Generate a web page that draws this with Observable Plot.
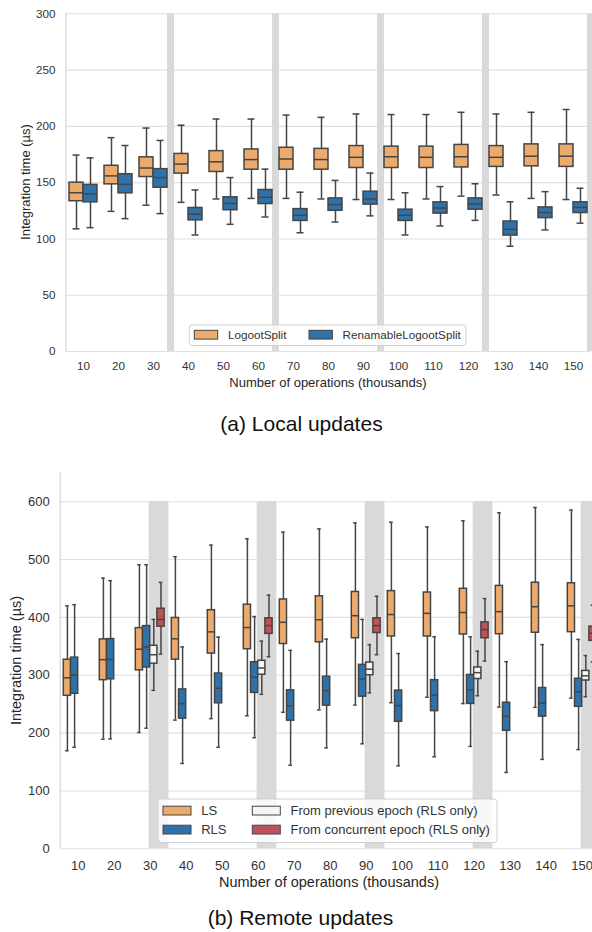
<!DOCTYPE html>
<html>
<head>
<meta charset="utf-8">
<script src="https://cdn.jsdelivr.net/npm/d3@7"></script>
<script src="https://cdn.jsdelivr.net/npm/@observablehq/plot@0.6"></script>
<style>
html, body { margin: 0; padding: 0; background: #fff; width: 592px; height: 932px; overflow: hidden; }
#root { position: relative; width: 592px; height: 932px; font-family: "Liberation Sans", Arial, Helvetica, sans-serif; }
#root svg { max-width: none !important; }
.layer { position: absolute; left: 0; }
</style>
</head>
<body>
<div id="root">
  <div id="top" class="layer" style="top:0px"></div>
  <div id="bottom" class="layer" style="top:440px"></div>
  <svg id="overlay" class="layer" style="top:0px" width="592" height="932"></svg>
</div>
<script>
// ---------- data ----------
const cats = [10, 20, 30, 40, 50, 60, 70, 80, 90, 100, 110, 120, 130, 140, 150];
const epochCats = [30, 60, 90, 120, 150];
const localEpochEdges = [35, 65, 95, 125, 155];
const yTicksLocal = [0, 50, 100, 150, 200, 250, 300];
const yTicksRemote = [0, 100, 200, 300, 400, 500, 600];

// each row: [lower whisker, Q1, median, Q3, upper whisker]
const localLS = [
  [109, 133.5, 141, 150, 174.5],
  [124.5, 148.5, 156, 165, 190],
  [130, 155, 163, 172.5, 198.5],
  [132.5, 158, 166.5, 175.5, 201],
  [135.5, 159.5, 168.5, 178, 206.5],
  [136, 161.5, 170.5, 179.5, 206.5],
  [136, 161.5, 171, 181, 210],
  [135.5, 161.5, 170.5, 180, 208],
  [135, 163, 172.5, 182.5, 211],
  [135, 163, 173, 182, 210.5],
  [135.5, 163, 172.5, 182, 210.5],
  [138, 163.5, 173, 183.5, 212.5],
  [139, 164, 172.5, 182.5, 211],
  [136, 164.5, 173.5, 184, 212.5],
  [135, 164, 173.5, 184, 215]
];
const localRLS = [
  [110, 132.5, 140, 148, 172],
  [118, 140.5, 148.5, 157.5, 183],
  [122.5, 145.5, 154.5, 162, 187.5],
  [103.5, 116.5, 122, 127.5, 143.5],
  [113, 125.5, 131.5, 137, 154.5],
  [119.5, 131, 137, 143.5, 162],
  [105.5, 116, 121, 126.5, 141.5],
  [115, 125, 130.5, 136, 152],
  [120.5, 130.5, 135.5, 142, 158.5],
  [103.5, 116, 121, 126, 141],
  [111.5, 122.5, 127.5, 132.5, 146.5],
  [116.5, 126, 131, 136, 149],
  [93.5, 103, 108.5, 115.5, 133],
  [108, 118.5, 123.5, 128, 142],
  [114, 123, 128, 132.5, 145]
];
const remoteLS = [
  [169.5, 264.5, 295.5, 327, 420],
  [189.5, 291.5, 327, 362, 468],
  [201, 308.5, 345, 381.5, 491],
  [222.5, 327, 363, 399, 505],
  [225, 337.5, 375, 412.5, 525],
  [230, 345, 382.5, 422, 536],
  [236, 354, 391.5, 431, 547.5],
  [240, 357, 396, 436.5, 553],
  [248.5, 364, 403, 444, 563.5],
  [252.5, 367, 405, 445.5, 564.5],
  [262, 367, 407, 443, 556.5],
  [251, 370.5, 408.5, 449.5, 567],
  [245, 371, 410, 454.5, 581],
  [244.5, 373.5, 418.5, 460, 590],
  [260.5, 374.5, 420, 459, 585.5]
];
const remoteRLS = [
  [175.5, 268, 300.5, 330.5, 422],
  [190, 293, 327.5, 362.5, 463.5],
  [208.5, 313.5, 349, 385, 491],
  [147.5, 225, 251, 275.5, 349],
  [175.5, 251.5, 277.5, 303, 366],
  [192, 269.5, 296.5, 322.5, 401.5],
  [144.5, 221.5, 247, 274, 343],
  [174.5, 247.5, 273.5, 297.5, 362.5],
  [181.5, 263, 293.5, 318, 396.5],
  [143.5, 219.5, 247.5, 273.5, 337.5],
  [159, 238, 265.5, 291.5, 366.5],
  [177, 250.5, 275, 300.5, 366.5],
  [132, 204, 229, 252.5, 323.5],
  [154.5, 228.5, 252, 278, 353],
  [171.5, 245.5, 271.5, 294, 362]
];
const remotePrev = [
  [274, 320, 335.5, 351, 396.5],
  [267, 301, 312.5, 325, 359],
  [269.5, 300, 310.5, 322, 353],
  [264.5, 293.5, 304.5, 313.5, 341.5],
  [263, 291, 299, 307.5, 334]
];
const remoteConc = [
  [336.5, 384, 396.5, 415, 460.5],
  [332, 371.5, 386, 398.5, 438.5],
  [335.5, 373, 386, 398.5, 436.5],
  [324.5, 364, 379, 391.5, 432.5],
  [323, 359.5, 372.5, 384, 421]
];
const localNames = ["LogootSplit", "RenamableLogootSplit"];
const remoteNames = ["LS", "RLS", "From previous epoch (RLS only)", "From concurrent epoch (RLS only)"];

// ---------- styles ----------
const ORANGE = "#ecaa6c", BLUE = "#3072a8", WHITE = "#f5f5f5", RED = "#be525a";
const EDGE = "#454545", GRID = "#e0e0e0", SPINE = "#d2d2d2", BAND = "#d9d9d9";
const FONT = '"Liberation Sans", Arial, Helvetica, sans-serif';

function toRows(xs, stats, offset, width, fill) {
  return xs.map((x, i) => {
    const [lo, q1, med, q3, hi] = stats[i];
    const xc = x + offset;
    return {xc, b1: xc - width / 2, b2: xc + width / 2, c1: xc - width / 4, c2: xc + width / 4, lo, q1, med, q3, hi, fill};
  });
}
function boxMarks(rows, sw) {
  const o = {stroke: EDGE, strokeWidth: sw};
  return [
    Plot.ruleX(rows, {x: "xc", y1: "lo", y2: "q1", ...o}),
    Plot.ruleX(rows, {x: "xc", y1: "q3", y2: "hi", ...o}),
    Plot.ruleY(rows, {y: "lo", x1: "c1", x2: "c2", ...o}),
    Plot.ruleY(rows, {y: "hi", x1: "c1", x2: "c2", ...o}),
    Plot.rect(rows, {x1: "b1", x2: "b2", y1: "q1", y2: "q3", fill: "fill", ...o}),
    Plot.ruleY(rows, {y: "med", x1: "b1", x2: "b2", ...o})
  ];
}

// ---------- top chart ----------
const topRows = [
  ...toRows(cats, localLS, -2, 4, ORANGE),
  ...toRows(cats, localRLS, 2, 4, BLUE)
];
const topPlot = Plot.plot({
  width: 592, height: 380,
  marginTop: 13.3, marginBottom: 29, marginLeft: 65.5, marginRight: 1.5,
  x: {domain: [5, 155]},
  y: {domain: [0, 300]},
  color: {type: "identity"},
  style: {fontFamily: FONT, fontSize: "11.7px", color: "#333", background: "transparent", overflow: "visible"},
  marks: [
    Plot.ruleY(yTicksLocal, {stroke: GRID, strokeWidth: 1.1}),
    Plot.rect(localEpochEdges, {x1: d => d - 1, x2: d => d + 1, y1: 0, y2: 300, fill: BAND}),
    Plot.ruleX([5], {y1: 0, y2: 300, stroke: SPINE, strokeWidth: 1.1}),
    ...boxMarks(topRows, 1.5),
    Plot.axisX({ticks: cats, tickFormat: d => String(d), tickSize: 0, tickPadding: 10.6, label: null}),
    Plot.axisY({ticks: yTicksLocal, tickFormat: d => String(d), tickSize: 0, tickPadding: 10.5, label: null})
  ]
});
document.getElementById("top").appendChild(topPlot);

// ---------- bottom chart ----------
const botRows = [
  ...toRows(cats, remoteLS, -3, 2, ORANGE),
  ...toRows(cats, remoteRLS, -1, 2, BLUE),
  ...toRows(epochCats, remotePrev, 1, 2, WHITE),
  ...toRows(epochCats, remoteConc, 3, 2, RED)
];
const botPlot = Plot.plot({
  width: 600, height: 440,
  marginTop: 32.3, marginBottom: 31.7, marginLeft: 59.7, marginRight: 0.3,
  x: {domain: [5, 155]},
  y: {domain: [0, 650]},
  color: {type: "identity"},
  style: {fontFamily: FONT, fontSize: "13px", color: "#333", background: "transparent", overflow: "visible"},
  marks: [
    Plot.ruleY(yTicksRemote, {stroke: GRID, strokeWidth: 1.1}),
    Plot.rect(epochCats, {x1: d => d - 0.3, x2: d => d + 5.2, y1: 0, y2: 600, fill: BAND}),
    Plot.ruleX([5], {y1: 0, y2: 650, stroke: SPINE, strokeWidth: 1.1}),
    ...boxMarks(botRows, 1.5),
    Plot.axisX({ticks: cats, tickFormat: d => String(d), tickSize: 0, tickPadding: 11.8, label: null}),
    Plot.axisY({ticks: yTicksRemote, tickFormat: d => String(d), tickSize: 0, tickPadding: 10.4, label: null})
  ]
});
document.getElementById("bottom").appendChild(botPlot);

// ---------- labels, legends, captions ----------
const ov = d3.select("#overlay").style("font-family", FONT);
function txt(x, y, s, size, opts = {}) {
  const t = ov.append("text").attr("x", x).attr("y", y).text(s)
    .attr("font-size", size).attr("fill", opts.fill || "#262626")
    .attr("text-anchor", opts.anchor || "middle");
  if (opts.rotate) t.attr("transform", `rotate(-90 ${x} ${y})`);
  if (opts.central) t.attr("dominant-baseline", "central");
  return t;
}
// axis labels
txt(25.7, 182, "Integration time (µs)", 13, {rotate: true, central: true});
txt(328, 386.5, "Number of operations (thousands)", 13);
txt(16, 660.5, "Integration time (µs)", 14.5, {rotate: true, central: true});
txt(329, 887, "Number of operations (thousands)", 14.5);
// captions
txt(301.5, 431, "(a) Local updates", 21, {fill: "#111"});
txt(300.5, 925, "(b) Remote updates", 21, {fill: "#111"});

// top legend
ov.append("rect").attr("x", 189.3).attr("y", 325).attr("width", 276.7).attr("height", 20.5)
  .attr("rx", 3).attr("fill", "rgba(255,255,255,0.8)").attr("stroke", "#d0d0d0").attr("stroke-width", 1);
const topLegendColors = [ORANGE, BLUE];
const topLegendX = [194.3, 309];
localNames.forEach((n, i) => {
  ov.append("rect").attr("x", topLegendX[i]).attr("y", 330.3).attr("width", 23.4).attr("height", 8.8)
    .attr("fill", topLegendColors[i]).attr("stroke", EDGE).attr("stroke-width", 1);
  txt(topLegendX[i] + 33.6, 334.6, n, 11.7, {anchor: "start", central: true, fill: "#333"});
});

// bottom legend
ov.append("rect").attr("x", 158).attr("y", 799).attr("width", 339).attr("height", 43.5)
  .attr("rx", 3).attr("fill", "rgba(255,255,255,0.8)").attr("stroke", "#d0d0d0").attr("stroke-width", 1);
const botLegendColors = [ORANGE, BLUE, WHITE, RED];
const botLegendX = [163, 163, 252.3, 252.3];
const botLegendY = [806.2, 825.2, 806.2, 825.2];
remoteNames.forEach((n, i) => {
  ov.append("rect").attr("x", botLegendX[i]).attr("y", botLegendY[i]).attr("width", 28).attr("height", 8.8)
    .attr("fill", botLegendColors[i]).attr("stroke", EDGE).attr("stroke-width", 1);
  txt(botLegendX[i] + 38.2, botLegendY[i] + 4.5, n, 13, {anchor: "start", central: true, fill: "#333"});
});
</script>
</body>
</html>
